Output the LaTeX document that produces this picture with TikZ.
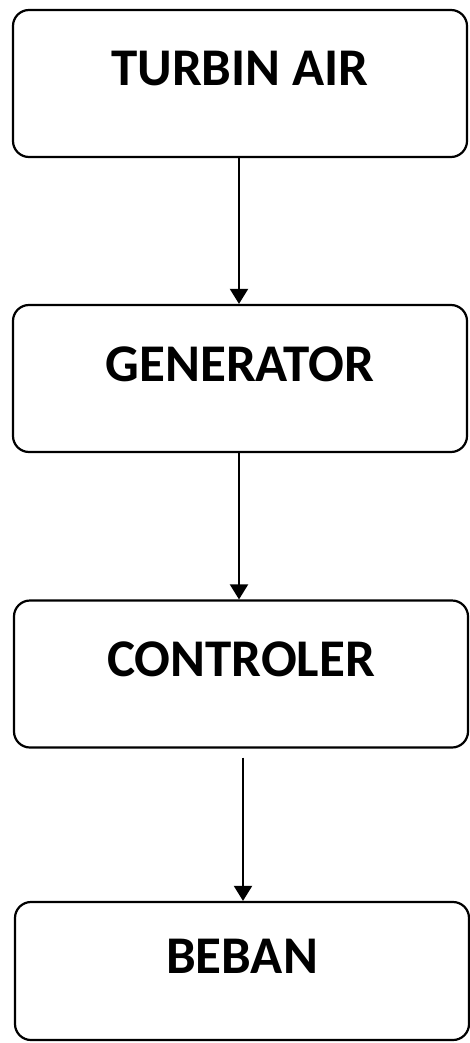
\documentclass[tikz,border=0pt]{standalone}
\usepackage{fontspec}
\setmainfont{Carlito}
\usetikzlibrary{arrows.meta}

\begin{document}
\begin{tikzpicture}[x=1pt,y=-1pt,
  blok/.style={draw,line width=2.2pt,rounded corners=16pt,minimum width=454pt,
    minimum height=147pt,text height=34pt,text depth=29pt,inner sep=0pt,
    font=\fontsize{53}{58}\selectfont\bfseries},
  panah/.style={line width=2pt,-{Triangle[width=18pt,length=15pt]}}]
\useasboundingbox (0,0) rectangle (469,1043);
\node[blok] (turbin)    at (240,83.5)  {TURBIN AIR};
\node[blok] (generator) at (240,378.5) {GENERATOR};
\node[blok] (controler) at (241,674)   {CONTROLER};
\node[blok,minimum height=138pt] (beban) at (242,971) {BEBAN};
\draw [panah] (turbin.south -| 239,0)    -- (generator.north -| 239,0);
\draw [panah] (generator.south -| 239,0) -- (controler.north -| 239,0);
\draw [panah,shorten <=9pt] (controler.south -| 243,0) -- (beban.north -| 243,0);
\end{tikzpicture}
\end{document}
